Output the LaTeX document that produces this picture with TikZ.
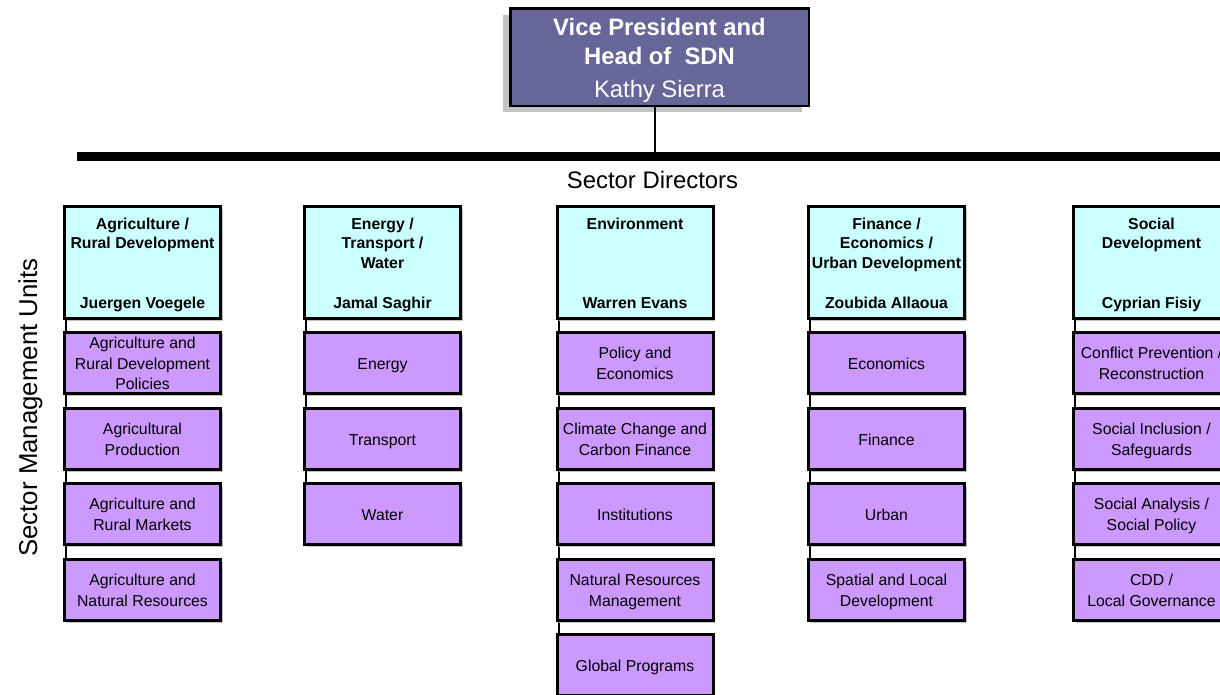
\documentclass[tikz,border=0pt]{standalone}
\usepackage{fontspec}
\setmainfont{Liberation Sans}
\usetikzlibrary{shadows,calc}
\definecolor{vpfill}{RGB}{102,102,153}
\definecolor{dirfill}{RGB}{204,255,255}
\definecolor{subfill}{RGB}{204,153,255}
\definecolor{shadowgray}{RGB}{195,195,195}
\newcommand\dirstrut{\rule[-3.75pt]{0pt}{19.5pt}}
\newcommand\substrut{\rule[-4.25pt]{0pt}{20.5pt}}
\newcommand\vpstrut{\rule[-5.5pt]{0pt}{29pt}}
\pgfdeclarelayer{bg}
\pgfsetlayers{bg,main}
\begin{document}
\begin{tikzpicture}[x=1pt,y=-1pt,
  vpbox/.style={draw=black, line width=2.5pt, fill=vpfill, text=white,
    minimum width=298.5pt, minimum height=97.5pt, inner sep=0pt, align=center,
    font=\fontsize{23.8}{29}\selectfont,
    drop shadow={shadow xshift=-7pt, shadow yshift=-6.5pt, fill=shadowgray, opacity=1}},
  dirbox/.style={draw=black, line width=3pt, fill=dirfill,
    minimum width=156pt, minimum height=112pt, inner sep=0pt, align=center,
    font=\fontsize{15.8}{19.5}\selectfont\bfseries,
    drop shadow={shadow xshift=2pt, shadow yshift=-2pt, fill=shadowgray, opacity=1}},
  subbox/.style={dirbox, fill=subfill, minimum height=61pt,
    font=\fontsize{15.8}{20.5}\selectfont},
  link/.style={draw=black, line width=2pt},
  bar/.style={draw=black, line width=9pt},
  heading/.style={font=\fontsize{23.9}{29}\selectfont, inner sep=0pt, anchor=base}
]
\useasboundingbox (0,0) rectangle (1220,694);
\clip (0,0) rectangle (1220,694);

% top box
\node[vpbox] (vp) at (659.5,57) {\vpstrut\textbf{Vice President and}\\\vpstrut\textbf{Head of~~SDN}\\[4pt]\vpstrut Kathy Sierra};

% bar
\coordinate (barL) at (77,156.5);
\coordinate (barR) at (1226,156.5);
\coordinate (vpjoin) at (654.5,156.5);
\draw[bar] (barL) -- (barR);
\draw[link] (vpjoin |- vp.south) -- (vpjoin);

% headings
\node[heading] (sd) at (652.5,188) {Sector Directors};
\node[heading, font=\fontsize{25.8}{30}\selectfont, rotate=90] (smu) at (37,407.5) {Sector Management Units};

% column 1
\node[dirbox] (d1) at (142.5,262.5) {\dirstrut Agriculture /\\\dirstrut Rural Development\\[40pt]\dirstrut Juergen Voegele};
\node[subbox] (s11) at (142.5,363) {\substrut Agriculture and\\\substrut Rural Development\\\substrut Policies};
\node[subbox] (s12) at (142.5,439) {\substrut Agricultural\\\substrut Production};
\node[subbox] (s13) at (142.5,514) {\substrut Agriculture and\\\substrut Rural Markets};
\node[subbox] (s14) at (142.5,590) {\substrut Agriculture and\\\substrut Natural Resources};

% column 2
\node[dirbox] (d2) at (382.5,262.5) {\dirstrut Energy /\\\dirstrut Transport /\\\dirstrut Water\\[20.5pt]\dirstrut Jamal Saghir};
\node[subbox] (s21) at (382.5,363) {\substrut Energy};
\node[subbox] (s22) at (382.5,439) {\substrut Transport};
\node[subbox] (s23) at (382.5,514) {\substrut Water};

% column 3
\node[dirbox] (d3) at (635,262.5) {\dirstrut Environment\\[59.5pt]\dirstrut Warren Evans};
\node[subbox] (s31) at (635,363) {\substrut Policy and\\\substrut Economics};
\node[subbox] (s32) at (635,439) {\substrut Climate Change and\\\substrut Carbon Finance};
\node[subbox] (s33) at (635,514) {\substrut Institutions};
\node[subbox] (s34) at (635,590) {\substrut Natural Resources\\\substrut Management};
\node[subbox] (s35) at (635,665) {\substrut Global Programs};

% column 4
\node[dirbox] (d4) at (886.5,262.5) {\dirstrut Finance /\\\dirstrut Economics /\\\dirstrut Urban Development\\[20.5pt]\dirstrut Zoubida Allaoua};
\node[subbox] (s41) at (886.5,363) {\substrut Economics};
\node[subbox] (s42) at (886.5,439) {\substrut Finance};
\node[subbox] (s43) at (886.5,514) {\substrut Urban};
\node[subbox] (s44) at (886.5,590) {\substrut Spatial and Local\\\substrut Development};

% column 5
\node[dirbox] (d5) at (1151.5,262.5) {\dirstrut Social\\\dirstrut Development\\[40pt]\dirstrut Cyprian Fisiy};
\node[subbox] (s51) at (1151.5,363) {\substrut Conflict Prevention /\\\substrut Reconstruction};
\node[subbox] (s52) at (1151.5,439) {\substrut Social Inclusion /\\\substrut Safeguards};
\node[subbox] (s53) at (1151.5,514) {\substrut Social Analysis /\\\substrut Social Policy};
\node[subbox] (s54) at (1151.5,590) {\substrut CDD /\\\substrut Local Governance};

% column connectors
\begin{pgfonlayer}{bg}
\draw[link] ($(d1.south west)+(3,0)$) -- ($(s14.north west)+(3,0)$);
\draw[link] ($(d2.south west)+(3,0)$) -- ($(s23.north west)+(3,0)$);
\draw[link] ($(d3.south west)+(3,0)$) -- ($(s35.north west)+(3,0)$);
\draw[link] ($(d4.south west)+(3,0)$) -- ($(s44.north west)+(3,0)$);
\draw[link] ($(d5.south west)+(3,0)$) -- ($(s54.north west)+(3,0)$);
\end{pgfonlayer}
\end{tikzpicture}
\end{document}
